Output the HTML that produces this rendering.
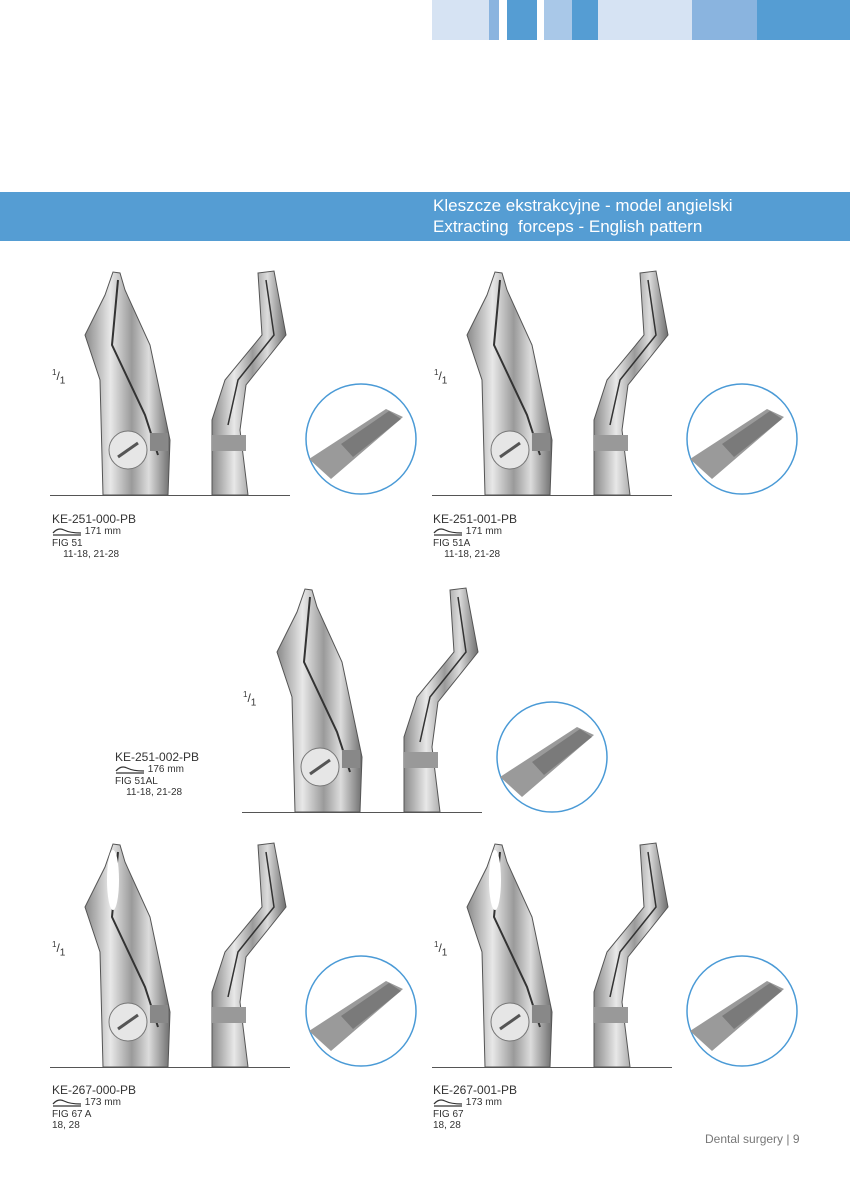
<!DOCTYPE html>
<html><head><meta charset="utf-8"><style>
body{margin:0;background:#fff;}
#p{position:relative;width:850px;height:1200px;overflow:hidden;font-family:"Liberation Sans",sans-serif;color:#333;}
.t{position:absolute;font-size:10px;line-height:11.5px;color:#333;}
.t b{font-weight:normal;font-size:12px;display:block;line-height:14px;}
.t i{display:inline-block;width:30px;height:8px;vertical-align:middle;}
.r{position:absolute;font-size:12px;color:#333;}
.r sup{font-size:8px;}
</style></head><body><div id="p">
<svg width="850" height="1200" style="position:absolute;left:0;top:0">
<defs>
<linearGradient id="g" x1="0" x2="1" y1="0" y2="0">
<stop offset="0" stop-color="#8a8a8a"/><stop offset=".3" stop-color="#e8e8e8"/><stop offset=".55" stop-color="#9a9a9a"/><stop offset=".75" stop-color="#dcdcdc"/><stop offset="1" stop-color="#6e6e6e"/></linearGradient>
<symbol id="f" overflow="visible">
<polygon points="63,-223 55,-200 35,-160 50,-115 53,0 118,0 120,-55 100,-150 75,-205 70,-222" fill="url(#g)" stroke="#555" stroke-width="1"/>
<path d="M68,-215 L62,-150 L95,-80 L108,-40" stroke="#333" stroke-width="2" fill="none"/>
<circle cx="78" cy="-45" r="19" fill="#e6e6e6" stroke="#777"/>
<line x1="68" y1="-38" x2="88" y2="-52" stroke="#555" stroke-width="3"/>
<rect x="100" y="-62" width="18" height="18" fill="#888"/>
<polygon points="208,-222 224,-224 236,-160 196,-110 190,-65 198,0 162,0 162,-75 175,-115 212,-160" fill="url(#g)" stroke="#555"/>
<path d="M216,-215 L224,-160 L188,-115 L178,-70" stroke="#333" stroke-width="1.5" fill="none"/>
<rect x="162" y="-60" width="34" height="16" fill="#999"/>
</symbol>
<symbol id="c" overflow="visible">
<circle cx="0" cy="0" r="55" fill="#fff" stroke="#4a9ad6" stroke-width="1.5"/>
<path d="M-52,20 L25,-30 L42,-22 L-30,40 Z" fill="#9a9a9a"/>
<path d="M-20,5 L28,-28 L40,-20 L-8,18 Z" fill="#666" opacity=".6"/>
</symbol>
<symbol id="ic" overflow="visible"><path d="M1,6 Q6,0 12,3 Q18,6 29,6" stroke="#333" stroke-width="1.2" fill="none"/><path d="M1,8 L29,8" stroke="#333" stroke-width="1.2"/></symbol>
</defs>
<rect x="432" y="0" width="57" height="40" fill="#d6e3f3"/>
<rect x="489" y="0" width="10" height="40" fill="#8ab4df"/>
<rect x="507" y="0" width="30" height="40" fill="#559dd3"/>
<rect x="544" y="0" width="28" height="40" fill="#a9c8e8"/>
<rect x="572" y="0" width="26" height="40" fill="#559dd3"/>
<rect x="598" y="0" width="94" height="40" fill="#d6e3f3"/>
<rect x="692" y="0" width="65" height="40" fill="#8ab4df"/>
<rect x="757" y="0" width="93" height="40" fill="#559dd3"/>
<rect x="0" y="192" width="850" height="49" fill="#559dd3"/>
<use href="#f" x="50" y="495"/><use href="#c" x="361" y="439"/>
<line x1="50" y1="495.5" x2="290" y2="495.5" stroke="#555"/>
<use href="#f" x="432" y="495"/><use href="#c" x="742" y="439"/>
<line x1="432" y1="495.5" x2="672" y2="495.5" stroke="#555"/>
<use href="#f" x="242" y="812"/><use href="#c" x="552" y="757"/>
<line x1="242" y1="812.5" x2="482" y2="812.5" stroke="#555"/>
<use href="#f" x="50" y="1067"/><use href="#c" x="361" y="1011"/>
<line x1="50" y1="1067.5" x2="290" y2="1067.5" stroke="#555"/>
<ellipse cx="113" cy="880" rx="6" ry="30" fill="#fff"/>
<use href="#f" x="432" y="1067"/><use href="#c" x="742" y="1011"/>
<line x1="432" y1="1067.5" x2="672" y2="1067.5" stroke="#555"/>
<ellipse cx="495" cy="880" rx="6" ry="30" fill="#fff"/>
<use href="#ic" x="52" y="527"/><use href="#ic" x="433" y="527"/><use href="#ic" x="115" y="765"/><use href="#ic" x="52" y="1098"/><use href="#ic" x="433" y="1098"/>
</svg>
<div style="position:absolute;left:433px;top:195px;color:#fff;font-size:17px;line-height:21px;">Kleszcze ekstrakcyjne - model angielski<br>Extracting&nbsp; forceps - English pattern</div>
<div class="r" style="left:52px;top:368px"><sup>1</sup>/<sub>1</sub></div>
<div class="r" style="left:434px;top:368px"><sup>1</sup>/<sub>1</sub></div>
<div class="r" style="left:243px;top:690px"><sup>1</sup>/<sub>1</sub></div>
<div class="r" style="left:52px;top:940px"><sup>1</sup>/<sub>1</sub></div>
<div class="r" style="left:434px;top:940px"><sup>1</sup>/<sub>1</sub></div>
<div class="t" style="left:52px;top:512px"><b>KE-251-000-PB</b><i></i> 171 mm<br>FIG 51<br>&nbsp;&nbsp;&nbsp; 11-18, 21-28</div>
<div class="t" style="left:433px;top:512px"><b>KE-251-001-PB</b><i></i> 171 mm<br>FIG 51A<br>&nbsp;&nbsp;&nbsp; 11-18, 21-28</div>
<div class="t" style="left:115px;top:750px"><b>KE-251-002-PB</b><i></i> 176 mm<br>FIG 51AL<br>&nbsp;&nbsp;&nbsp; 11-18, 21-28</div>
<div class="t" style="left:52px;top:1083px"><b>KE-267-000-PB</b><i></i> 173 mm<br>FIG 67 A<br>18, 28</div>
<div class="t" style="left:433px;top:1083px"><b>KE-267-001-PB</b><i></i> 173 mm<br>FIG 67<br>18, 28</div>
<div style="position:absolute;left:705px;top:1132px;font-size:12px;color:#777">Dental surgery | 9</div>
</div></body></html>
